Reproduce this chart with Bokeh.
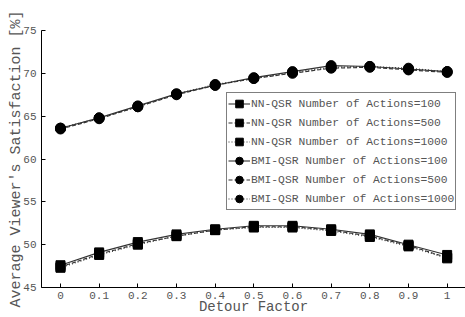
from bokeh.plotting import figure
from bokeh.models import Range1d, Legend, LegendItem, FixedTicker
from bokeh.embed import file_html
from bokeh.resources import INLINE

detour = [0, 0.1, 0.2, 0.3, 0.4, 0.5, 0.6, 0.7, 0.8, 0.9, 1.0]

nn_100 = [47.6, 49.1, 50.3, 51.2, 51.8, 52.2, 52.2, 51.8, 51.2, 50.0, 48.8]
nn_500 = [47.4, 48.9, 50.1, 51.0, 51.7, 52.1, 52.1, 51.7, 51.0, 49.9, 48.5]
nn_1000 = [47.3, 48.8, 50.0, 51.0, 51.7, 52.0, 52.0, 51.6, 50.9, 49.8, 48.4]

bmi_100 = [63.6, 64.8, 66.2, 67.6, 68.6, 69.5, 70.2, 70.9, 70.8, 70.5, 70.2]
bmi_500 = [63.5, 64.7, 66.1, 67.5, 68.6, 69.4, 70.0, 70.6, 70.7, 70.4, 70.1]
bmi_1000 = [63.6, 64.8, 66.1, 67.6, 68.7, 69.4, 70.1, 70.7, 70.8, 70.6, 70.2]

x_ticks = [0, 0.1, 0.2, 0.3, 0.4, 0.5, 0.6, 0.7, 0.8, 0.9, 1]
x_tick_labels = ["0", "0.1", "0.2", "0.3", "0.4", "0.5", "0.6", "0.7", "0.8", "0.9", "1"]
y_ticks = [45, 50, 55, 60, 65, 70, 75]
x_title = "Detour Factor"
y_title = "Average Viewer's Satisfaction [%]"

series = [
    ("NN-QSR Number of Actions=100", nn_100, "square", "solid"),
    ("NN-QSR Number of Actions=500", nn_500, "square", "4 2"),
    ("NN-QSR Number of Actions=1000", nn_1000, "square", "1 2"),
    ("BMI-QSR Number of Actions=100", bmi_100, "circle", "solid"),
    ("BMI-QSR Number of Actions=500", bmi_500, "circle", "4 2"),
    ("BMI-QSR Number of Actions=1000", bmi_1000, "circle", "1 2"),
]

FONT = "Liberation Mono"
TXT = "#555555"

p = figure(width=465, height=317, output_backend="svg", toolbar_location=None,
           x_range=Range1d(-0.0491, 1.0474), y_range=Range1d(45, 75),
           min_border_left=41, min_border_right=0, min_border_top=30, min_border_bottom=27)
p.outline_line_color = None
p.grid.visible = False
p.background_fill_color = "white"

for ax in (p.xaxis[0], p.yaxis[0]):
    ax.major_tick_in = 4
    ax.major_tick_out = 0
    ax.minor_tick_line_color = None
    ax.axis_line_color = "black"
    ax.major_tick_line_color = "black"
    ax.major_label_text_font = FONT
    ax.major_label_text_font_size = "11px"
    ax.major_label_text_color = TXT
    ax.axis_label_text_font = FONT
    ax.axis_label_text_font_style = "normal"
    ax.axis_label_text_color = TXT

p.xaxis.ticker = FixedTicker(ticks=x_ticks)
p.xaxis.major_label_overrides = {t: l for t, l in zip(x_ticks, x_tick_labels)}
p.xaxis.major_label_standoff = 4
p.yaxis.ticker = FixedTicker(ticks=y_ticks)
p.yaxis.major_label_standoff = 5
p.xaxis.axis_label = x_title
p.xaxis.axis_label_text_font_size = "14px"
p.xaxis.axis_label_standoff = -3
p.yaxis.axis_label = y_title
p.yaxis.axis_label_text_font_size = "15px"
p.yaxis.axis_label_standoff = -5

items = []
for label, vals, marker, dash in series:
    lr = p.line(detour, vals, line_color="#333333", line_width=1.1, line_dash=dash)
    size = 9 if marker == "square" else 10
    sr = p.scatter(detour, vals, marker=marker, size=size, fill_color="black", line_color="black")
    items.append(LegendItem(label=label, renderers=[lr, sr]))

legend = Legend(items=items, location=(185, 77))
legend.label_text_font = FONT
legend.label_text_font_size = "11.3px"
legend.label_text_color = TXT
legend.border_line_color = "black"
legend.border_line_width = 1.3
legend.background_fill_color = "white"
legend.background_fill_alpha = 1
legend.glyph_width = 22
legend.glyph_height = 19
legend.label_height = 19
legend.label_standoff = 1
legend.spacing = 0
legend.padding = 1
legend.margin = 0
legend.title_standoff = 0
p.add_layout(legend, "center")

open("out.html", "w").write(file_html(p, INLINE))
